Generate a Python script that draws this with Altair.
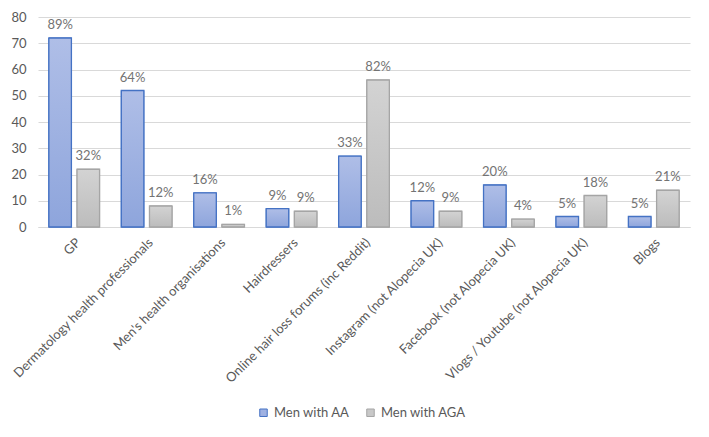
import altair as alt
import pandas as pd

categories = [
    "GP",
    "Dermatology health professionals",
    "Men's health organisations",
    "Hairdressers",
    "Online hair loss forums (inc Reddit)",
    "Instagram (not Alopecia UK)",
    "Facebook (not Alopecia UK)",
    "Vlogs / Youtube (not Alopecia UK)",
    "Blogs",
]
groups = ["Men with AA", "Men with AGA"]
aa_counts = [72, 52, 13, 7, 27, 10, 16, 4, 4]
aga_counts = [22, 8, 1, 6, 56, 6, 3, 12, 14]
aa_pct = [89, 64, 16, 9, 33, 12, 20, 5, 5]
aga_pct = [32, 12, 1, 9, 82, 9, 4, 18, 21]

rows = []
for i, c in enumerate(categories):
    rows.append({"category": c, "group": groups[0], "count": aa_counts[i], "pct": f"{aa_pct[i]}%"})
    rows.append({"category": c, "group": groups[1], "count": aga_counts[i], "pct": f"{aga_pct[i]}%"})
df = pd.DataFrame(rows)

x = alt.X("category:N", sort=categories,
          scale=alt.Scale(paddingInner=0.3, paddingOuter=0.15),
          axis=alt.Axis(labelAngle=-45, title=None, ticks=False, domainColor="#d9d9d9",
                        labelColor="#595959", labelFontSize=13, labelPadding=9, labelLimit=400))
xo = alt.XOffset("group:N", sort=groups, scale=alt.Scale(paddingInner=0.2, paddingOuter=0))
y = alt.Y("count:Q", scale=alt.Scale(domain=[0, 80]),
          axis=alt.Axis(values=list(range(0, 81, 10)), title=None, domain=False, ticks=False,
                        gridColor="#d9d9d9", labelColor="#595959", labelFontSize=13, labelPadding=12))

legend = alt.Legend(title=None, orient="none", legendX=219, legendY=389, direction="horizontal",
                    symbolType="square", symbolSize=56, labelFontSize=13, labelColor="#595959",
                    columnPadding=14, labelOffset=4, symbolStrokeWidth=1)

base = alt.Chart().mark_bar().encode(
    x=x, xOffset=xo, y=y,
    fill=alt.Fill("group:N", scale=alt.Scale(domain=groups, range=["#9fb1e2", "#c8c8c8"]), legend=legend),
    stroke=alt.Stroke("group:N", scale=alt.Scale(domain=groups, range=["#4472c4", "#a5a5a5"]), legend=legend),
)

def grad(top, bottom):
    return alt.Gradient(gradient="linear", x1=0, x2=0, y1=0, y2=1,
                        stops=[alt.GradientStop(offset=0, color=top),
                               alt.GradientStop(offset=1, color=bottom)])

aa_layer = alt.Chart().mark_bar(fill=grad("#afbee7", "#8ea5dc"), stroke="#4472c4", strokeWidth=1.3).encode(
    x=x, xOffset=xo, y=y).transform_filter(alt.datum.group == groups[0])
aga_layer = alt.Chart().mark_bar(fill=grad("#d3d3d3", "#bcbcbc"), stroke="#a5a5a5", strokeWidth=1.3).encode(
    x=x, xOffset=xo, y=y).transform_filter(alt.datum.group == groups[1])

text = alt.Chart().mark_text(dy=-6, baseline="bottom", fontSize=13, color="#737373").encode(
    x=x, xOffset=xo, y=y, text="pct:N")

chart = alt.layer(base, aa_layer, aga_layer, text, data=df).properties(
    width=652, height=210,
    padding={"left": 30, "top": 9, "right": 11, "bottom": 202},
    autosize=alt.AutoSizeParams(type="none"),
).configure(font="Lato").configure_view(stroke=None)

chart.save("out.html", embed_options={"renderer": "svg", "actions": False})
